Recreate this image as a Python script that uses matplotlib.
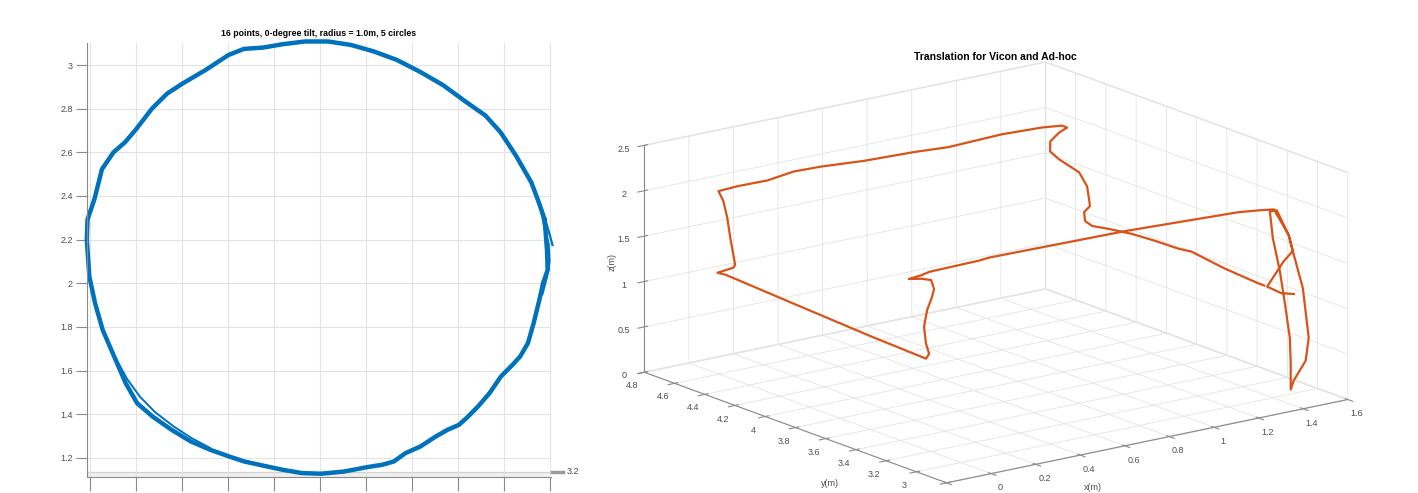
import matplotlib
matplotlib.use('Agg')
import matplotlib.pyplot as plt
from matplotlib.ticker import FormatStrFormatter

plt.rcParams['font.family'] = ['Liberation Sans', 'DejaVu Sans']

# ---- left: top view of the circle flight (5 loops) ----
circle_x = [0.975, 0.95, 0.917, 0.85, 0.783, 0.717, 0.633, 0.533, 0.433, 0.333,
            0.233, 0.133, 0.033, -0.067, -0.167, -0.25, -0.333, -0.4, -0.5, -0.6,
            -0.667, -0.733, -0.8, -0.85, -0.9, -0.95, -0.983, -1.013, -1.016, -1.013,
            -1.005, -0.98, -0.947, -0.897, -0.847, -0.797, -0.73, -0.647, -0.564, -0.48,
            -0.397, -0.331, -0.231, -0.164, -0.081, 0.002, 0.102, 0.202, 0.269, 0.319,
            0.369, 0.435, 0.502, 0.552, 0.602, 0.635, 0.685, 0.735, 0.785, 0.835,
            0.868, 0.902, 0.927, 0.952, 0.968, 0.988, 0.985, 0.975]
circle_y = [2.292, 2.369, 2.462, 2.585, 2.692, 2.769, 2.831, 2.908, 2.969, 3.023,
            3.062, 3.092, 3.108, 3.108, 3.095, 3.08, 3.074, 3.046, 2.977, 2.915,
            2.869, 2.80, 2.708, 2.646, 2.60, 2.523, 2.385, 2.292, 2.2, 2.153,
            2.031, 1.908, 1.786, 1.664, 1.542, 1.45, 1.389, 1.328, 1.275, 1.237,
            1.206, 1.183, 1.16, 1.145, 1.13, 1.127, 1.137, 1.157, 1.168, 1.183,
            1.221, 1.252, 1.298, 1.328, 1.351, 1.382, 1.435, 1.496, 1.573, 1.626,
            1.664, 1.725, 1.817, 1.924, 2.0, 2.061, 2.153, 2.292]
# loops that drift apart on the right side and lower left
strand_r_x = [0.93, 0.96, 0.975, 0.992, 0.996, 0.985, 0.965]
strand_r_y = [2.43, 2.33, 2.25, 2.18, 2.10, 2.03, 1.95]
tail_x = [0.94, 0.975, 0.995, 1.009]
tail_y = [2.40, 2.30, 2.23, 2.175]
strand_l_x = [-1.0, -0.975, -0.94, -0.89, -0.84, -0.785, -0.72, -0.64, -0.56, -0.48]
strand_l_y = [2.0, 1.88, 1.77, 1.655, 1.56, 1.48, 1.41, 1.345, 1.29, 1.245]

yticks = [1.2, 1.4, 1.6, 1.8, 2.0, 2.2, 2.4, 2.6, 2.8, 3.0]
ytick_labels = ['1.2', '1.4', '1.6', '1.8', '2', '2.2', '2.4', '2.6', '2.8', '3']
xticks = [-1.0, -0.8, -0.6, -0.4, -0.2, 0.0, 0.2, 0.4, 0.6, 0.8, 1.0]

# ---- right: Vicon / ad-hoc 3D translation ----
vx = [1.55, 1.55, 1.55, 1.50, 1.50, 1.50, 1.50, 1.50, 1.50,
      1.50, 1.50, 1.50, 1.50, 1.50, 1.50,
      1.50, 1.50, 1.50, 1.50, 1.50, 1.50,
      1.506, 1.434, 1.343, 0.847, 0.229, 0.184, -0.041, -0.077, -0.132,
      -0.073, -0.032, -0.019, -0.028, -0.05, -0.064, -0.055, -0.041, -0.055,
      -0.04, -0.02, 0.0, 0.0, 0.0, 0.0, 0.0, 0.0, 0.0, 0.0, 0.0, 0.0, 0.0,
      0.089, 0.224, 0.341, 0.463, 0.657, 0.882, 1.036, 1.275, 1.455, 1.546, 1.568,
      1.55, 1.55, 1.55, 1.55, 1.55, 1.55, 1.55, 1.55, 1.55, 1.55, 1.55,
      1.55, 1.55, 1.55, 1.55, 1.55, 1.55, 1.55, 1.55]
vy = [3.083, 3.168, 3.26, 3.128, 3.076, 3.016, 3.043, 3.122, 3.168,
      3.148, 3.102, 3.069, 3.036, 3.03, 3.03,
      3.01, 2.931, 2.911, 2.95, 3.016, 3.043,
      3.15, 3.15, 3.15, 3.15, 3.15, 3.15, 3.15, 3.15, 3.15,
      3.15, 3.15, 3.15, 3.15, 3.15, 3.15, 3.15, 3.15, 3.15,
      3.527, 4.036, 4.48, 4.559, 4.611, 4.506, 4.494, 4.506, 4.526, 4.546, 4.572, 4.591, 4.604,
      4.61, 4.61, 4.61, 4.61, 4.61, 4.61, 4.61, 4.61, 4.61, 4.61, 4.61,
      4.636, 4.695, 4.695, 4.636, 4.504, 4.451, 4.438, 4.432, 4.471, 4.464, 4.418,
      4.307, 4.155, 4.004, 3.846, 3.761, 3.543, 3.32, 3.28]
vz = [1.015, 0.974, 0.99, 1.243, 1.408, 1.554, 1.713, 1.939, 1.899,
      1.615, 1.282, 0.952, 0.588, 0.317, 0.021,
      0.132, 0.399, 0.664, 1.189, 1.554, 1.713,
      1.929, 1.955, 1.98, 2.03, 2.05, 2.04, 2.03, 2.01, 1.998,
      1.97, 1.935, 1.83, 1.747, 1.615, 1.436, 1.246, 1.128, 1.081,
      1.083, 1.10, 1.113, 1.12, 1.109, 1.229, 1.268, 1.371, 1.545, 1.752, 1.923, 1.976, 2.013,
      2.018, 2.013, 2.051, 2.043, 2.008, 1.99, 1.966, 1.985, 1.968, 1.943, 1.909,
      1.848, 1.714, 1.604, 1.553, 1.491, 1.369, 1.236, 1.162, 1.072, 0.978, 0.952,
      0.987, 1.025, 1.042, 1.05, 1.07, 1.018, 0.99, 0.99]

tick_gray = '#4d4d4d'
grid_gray = '#e3e3e3'
blue = '#0072BD'
orange = '#D95319'

fig = plt.figure(figsize=(14.18, 4.93), dpi=100)

# right panel (drawn first, large transparent axes so the box is not clipped)
plt.rcParams['grid.color'] = grid_gray
plt.rcParams['grid.linewidth'] = 0.6
ax2 = fig.add_axes([0.281, -0.3095, 0.829, 1.474], projection='3d')
ax2.patch.set_alpha(0)
ax2.plot(vx, vy, vz, color=orange, lw=1.6)
ax2.set_xlim(-0.2, 1.6)
ax2.set_ylim(2.8, 4.8)
ax2.set_zlim(0, 2.5)
ax2.set_xticks([-0.2, 0, 0.2, 0.4, 0.6, 0.8, 1.0, 1.2, 1.4, 1.6])
ax2.set_yticks([2.8, 3.0, 3.2, 3.4, 3.6, 3.8, 4.0, 4.2, 4.4, 4.6, 4.8])
ax2.set_zticks([0, 0.5, 1, 1.5, 2, 2.5])
for a in (ax2.xaxis, ax2.yaxis, ax2.zaxis):
    a.set_major_formatter(FormatStrFormatter('%g'))
    a.set_pane_color((1, 1, 1, 1))
    a.pane.set_edgecolor(grid_gray)
    a.line.set_color('#8a8a8a')
    a.line.set_linewidth(0.8)
ax2.tick_params(labelsize=6.5, labelcolor=tick_gray, colors='#8a8a8a', pad=0)
ax2.set_proj_type('ortho')
ax2.view_init(elev=16, azim=-127)
ax2.set_box_aspect((1, 1, 0.47))
# axis names placed like the MATLAB export
fig.text(1093 / 1418, 1 - 488 / 493, 'x(m)', fontsize=6.5, color=tick_gray,
         ha='center', va='center')
fig.text(830 / 1418, 1 - 483 / 493, 'y(m)', fontsize=6.5, color=tick_gray,
         ha='center', va='center')
fig.text(612 / 1418, 1 - 262 / 493, 'z(m)', fontsize=6.5, color=tick_gray,
         ha='center', va='center', rotation=90)
fig.text(995 / 1418, 1 - 57 / 493, 'Translation for Vicon and Ad-hoc',
         fontsize=7.5, fontweight='bold', ha='center', va='center')

# left panel
ax1 = fig.add_axes([86.7 / 1418, 16 / 493, 464.3 / 1418, 434 / 493])
ax1.plot(circle_x, circle_y, color=blue, lw=3.2, clip_on=False, solid_capstyle='round')
ax1.plot(strand_r_x, strand_r_y, color=blue, lw=1.6, clip_on=False)
ax1.plot(tail_x, tail_y, color=blue, lw=1.6, clip_on=False)
ax1.plot(strand_l_x, strand_l_y, color=blue, lw=1.4, clip_on=False)
ax1.set_xlim(-1.0165, 1.0025)
ax1.set_ylim(1.112, 3.101)
ax1.set_xticks(xticks)
ax1.set_xticklabels([''] * len(xticks))
ax1.set_yticks(yticks)
ax1.set_yticklabels(ytick_labels)
ax1.grid(True, color=grid_gray, lw=0.8)
ax1.set_axisbelow(True)
ax1.axhspan(1.112, 1.1356, color='#efefef', zorder=0)
ax1.axhline(1.1356, color='#d0d0d0', lw=0.8, zorder=0.5)
for s in ['top', 'right']:
    ax1.spines[s].set_visible(False)
ax1.spines['left'].set_color('#8a8a8a')
ax1.spines['bottom'].set_color('#8a8a8a')
ax1.tick_params(axis='y', direction='out', length=8, width=0.8, color='#8a8a8a',
                labelsize=6.5, labelcolor=tick_gray, pad=2)
ax1.tick_params(axis='x', direction='out', length=10, width=0.8, color='#8a8a8a')
ax1.set_title('16 points, 0-degree tilt, radius = 1.0m, 5 circles',
              fontsize=6.3, fontweight='bold', pad=5)
ax1.plot([1.006, 1.055], [1.1356, 1.1356], color='#9a9a9a', lw=2.5, clip_on=False)
ax1.text(1.072, 1.1356, '3.2', fontsize=6.5, color=tick_gray, va='center', ha='left')

fig.savefig('out.png', dpi=100)
